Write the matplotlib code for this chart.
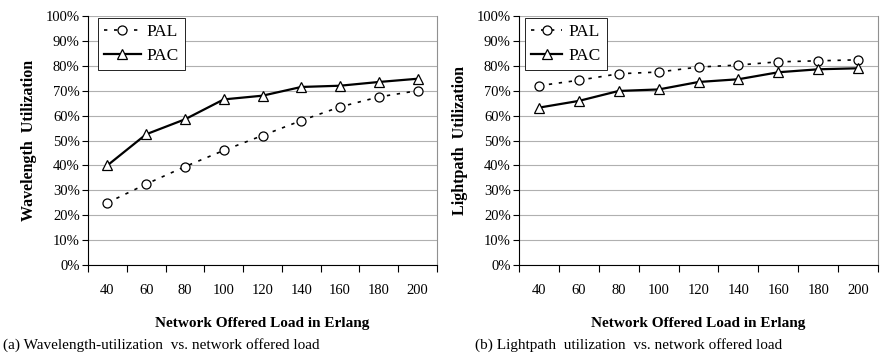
import matplotlib
matplotlib.use("Agg")
import matplotlib.pyplot as plt
import numpy as np
from matplotlib.ticker import FixedLocator, PercentFormatter

plt.rcParams["font.family"] = ["Liberation Serif", "DejaVu Serif"]

loads = ["40", "60", "80", "100", "120", "140", "160", "180", "200"]

# (a) wavelength utilization, percent
wl_pal = [25, 32.5, 39.5, 46, 52, 58, 63.5, 67.5, 70]
wl_pac = [40, 52.5, 58.5, 66.5, 68, 71.5, 72, 73.5, 74.8]

# (b) lightpath utilization, percent
lp_pal = [72, 74.2, 76.8, 77.5, 79.5, 80.3, 81.6, 82, 82.4]
lp_pac = [63.2, 65.9, 69.9, 70.5, 73.5, 74.6, 77.4, 78.6, 79]

captions = ["(a) Wavelength-utilization  vs. network offered load",
            "(b) Lightpath  utilization  vs. network offered load"]
ylabels = ["Wavelength  Utilization", "Lightpath  Utilization"]

fig = plt.figure(figsize=(8.91, 3.6), dpi=100)
W, H = 891, 360
boxes = [(88, 16, 437, 265), (519, 16, 878, 265)]
leg_off = [10, 6]
handle_len = [2.1, 1.8]

panels = [(wl_pal, wl_pac), (lp_pal, lp_pac)]
for i, ((pal, pac), (x0, y0, x1, y1)) in enumerate(zip(panels, boxes)):
    ax = fig.add_axes([x0 / W, 1 - y1 / H, (x1 - x0) / W, (y1 - y0) / H])
    x = np.arange(len(loads))
    ax.plot(x, pal, linestyle=(0, (2, 4)), color="black", lw=1.2,
            marker="o", ms=6.5, mfc="white", mec="black", mew=0.9, label="PAL")
    ax.plot(x, pac, linestyle="-", color="black", lw=1.6,
            marker="^", ms=7, mfc="white", mec="black", mew=0.9, label="PAC")
    ax.set_xlim(-0.5, len(loads) - 0.5)
    ax.set_ylim(0, 100)
    ax.set_yticks(np.arange(0, 101, 10))
    ax.yaxis.set_major_formatter(PercentFormatter(decimals=0))
    ax.set_xticks(x)
    ax.set_xticklabels(loads)
    ax.xaxis.set_minor_locator(FixedLocator(np.arange(-0.5, len(loads), 1)))
    ax.tick_params(axis="x", which="major", length=0, pad=14, labelsize=10.5)
    ax.tick_params(axis="x", which="minor", length=5, width=0.8, direction="out")
    ax.tick_params(axis="y", length=4, width=0.8, direction="out", labelsize=10.5, pad=2)
    ax.grid(axis="y", color="#b0b0b0", lw=0.8)
    ax.set_axisbelow(True)
    ax.spines["top"].set_visible(False)
    ax.spines["right"].set_color("#909090")
    ax.set_ylabel(ylabels[i], fontsize=11.5, fontweight="bold", labelpad=6)
    ax.set_xlabel("Network Offered Load in Erlang", fontsize=11, fontweight="bold", labelpad=14)
    w, h = x1 - x0, y1 - y0
    leg = ax.legend(loc="upper left", bbox_to_anchor=(leg_off[i] / w, 1 - 2 / h),
                    borderaxespad=0, frameon=True, fancybox=False, fontsize=12.5,
                    handlelength=handle_len[i], handletextpad=0.35, edgecolor="black",
                    framealpha=1, borderpad=0.35, labelspacing=0.45)
    leg.get_frame().set_linewidth(0.6)

fig.text(3 / W, 1 - 345 / H, captions[0], fontsize=11, va="center", ha="left")
fig.text(475 / W, 1 - 345 / H, captions[1], fontsize=11, va="center", ha="left")

fig.savefig("out.png", dpi=100)
